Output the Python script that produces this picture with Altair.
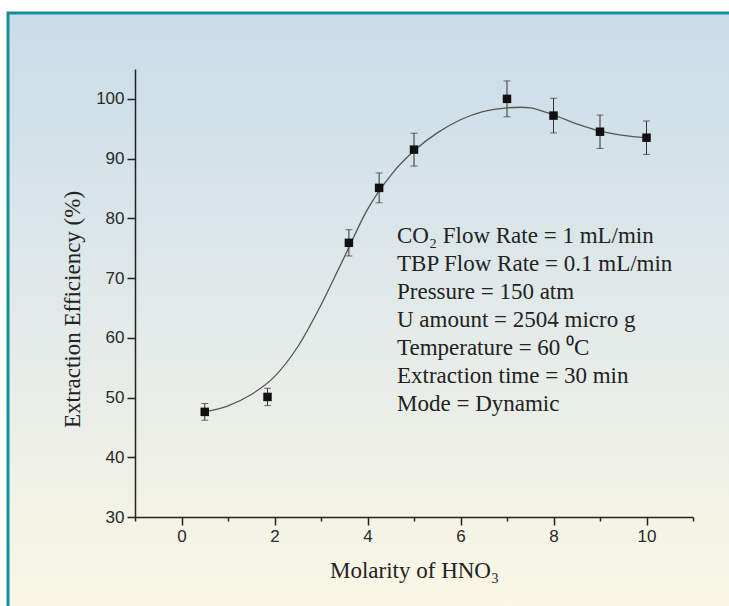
import altair as alt
import pandas as pd

# Measured data points (Molarity of HNO3 vs extraction efficiency)
molarity = [0.5, 1.85, 3.6, 4.25, 5.0, 7.0, 8.0, 9.0, 10.0]
efficiency = [47.6, 50.1, 75.9, 85.1, 91.5, 100.0, 97.2, 94.5, 93.5]
err = [1.4, 1.45, 2.2, 2.5, 2.75, 3.0, 2.9, 2.8, 2.8]

# Fitted curve
curve_x = [0.5, 1.0, 1.5, 2.0, 2.5, 3.0, 3.5, 4.0, 4.5, 5.0, 5.5, 6.0, 6.5, 7.0, 7.3, 7.5, 8.0, 8.5, 9.0, 9.5, 10.0]
curve_y = [47.6, 48.6, 50.5, 53.5, 58.5, 65.5, 73.5, 81.5, 87.2, 91.3, 94.3, 96.5, 97.9, 98.5, 98.6, 98.5, 97.3, 95.8, 94.6, 93.9, 93.5]

x_ticks = [-1, 0, 1, 2, 3, 4, 5, 6, 7, 8, 9, 10, 11]
y_ticks = [30, 35, 40, 45, 50, 55, 60, 65, 70, 75, 80, 85, 90, 95, 100, 105]

notes = [
    "CO\u2082 Flow Rate = 1 mL/min",
    "TBP Flow Rate = 0.1 mL/min",
    "Pressure = 150 atm",
    "U amount = 2504 micro g",
    "Temperature = 60 \u2070C",
    "Extraction time = 30 min",
    "Mode = Dynamic",
]

pts = pd.DataFrame({"x": molarity, "y": efficiency, "e": err})
pts["lo"] = pts["y"] - pts["e"]
pts["hi"] = pts["y"] + pts["e"]
curve = pd.DataFrame({"x": curve_x, "y": curve_y})
one = pd.DataFrame({"a": [0]})

xscale = alt.Scale(domain=[-1, 11], nice=False, zero=False)
yscale = alt.Scale(domain=[30, 105], nice=False, zero=False)

axis_common = dict(
    grid=False,
    zindex=1,
    domainColor="#222222",
    domainWidth=1.5,
    tickColor="#222222",
    tickWidth=1.5,
    labelFont="Liberation Sans",
    labelFontSize=17,
    labelColor="#2a2a2a",
    labelPadding=3,
    titleFont="Liberation Serif",
    titleFontSize=23,
    titleFontWeight="normal",
    titleColor="#222222",
)

xaxis = alt.Axis(
    values=x_ticks,
    title="Molarity of HNO\u2083",
    labelExpr="datum.value % 2 === 0 ? datum.label : ''",
    tickSize={"condition": {"test": "datum.value % 2 === 0", "value": 8}, "value": 4},
    titlePadding=15,
    **axis_common,
)
yaxis = alt.Axis(
    values=y_ticks,
    title="Extraction Efficiency (%)",
    labelExpr="datum.value % 10 === 0 ? datum.label : ''",
    tickSize={"condition": {"test": "datum.value % 10 === 0", "value": 8}, "value": 4},
    titlePadding=11,
    titleY=240,
    **axis_common,
)

grad = alt.LinearGradient(
    gradient="linear",
    stops=[
        alt.GradientStop(color="#c8dce9", offset=0),
        alt.GradientStop(color="#e3eae9", offset=0.5),
        alt.GradientStop(color="#fcf8e4", offset=1),
    ],
    x1=0, x2=0, y1=0, y2=1,
)

background = alt.Chart(one).mark_rect(fill=grad, stroke="#168e9b", strokeWidth=3).encode(
    x=alt.value(-127), x2=alt.value(640), y=alt.value(-56), y2=alt.value(560)
)

line = alt.Chart(curve).mark_line(interpolate="monotone", color="#555555", strokeWidth=1.3).encode(
    x=alt.X("x:Q", scale=xscale, axis=xaxis),
    y=alt.Y("y:Q", scale=yscale, axis=yaxis),
)

stems = alt.Chart(pts).mark_rule(color="#333333", strokeWidth=1).encode(
    x=alt.X("x:Q", scale=xscale), y=alt.Y("lo:Q", scale=yscale), y2="hi:Q"
)
caps_lo = alt.Chart(pts).mark_tick(orient="horizontal", size=7, thickness=1, color="#333333").encode(
    x=alt.X("x:Q", scale=xscale), y=alt.Y("lo:Q", scale=yscale)
)
caps_hi = alt.Chart(pts).mark_tick(orient="horizontal", size=7, thickness=1, color="#333333").encode(
    x=alt.X("x:Q", scale=xscale), y=alt.Y("hi:Q", scale=yscale)
)
points = alt.Chart(pts).mark_square(size=72, color="#111111", opacity=1, filled=True).encode(
    x=alt.X("x:Q", scale=xscale), y=alt.Y("y:Q", scale=yscale)
)

text = alt.Chart(one).mark_text(
    text=notes,
    align="left",
    baseline="alphabetic",
    font="Liberation Serif",
    fontSize=23,
    lineHeight=28,
    color="#222222",
).encode(x=alt.value(262), y=alt.value(174))

chart = alt.layer(background, line, stems, caps_lo, caps_hi, points, text).properties(
    width=558,
    height=448,
    padding={"left": 135, "top": 69, "right": 36, "bottom": 89},
    autosize=alt.AutoSizeParams(type="none"),
    background="white",
).configure_view(stroke=None)

chart.save("out.html", embed_options={"renderer": "svg", "actions": False})
